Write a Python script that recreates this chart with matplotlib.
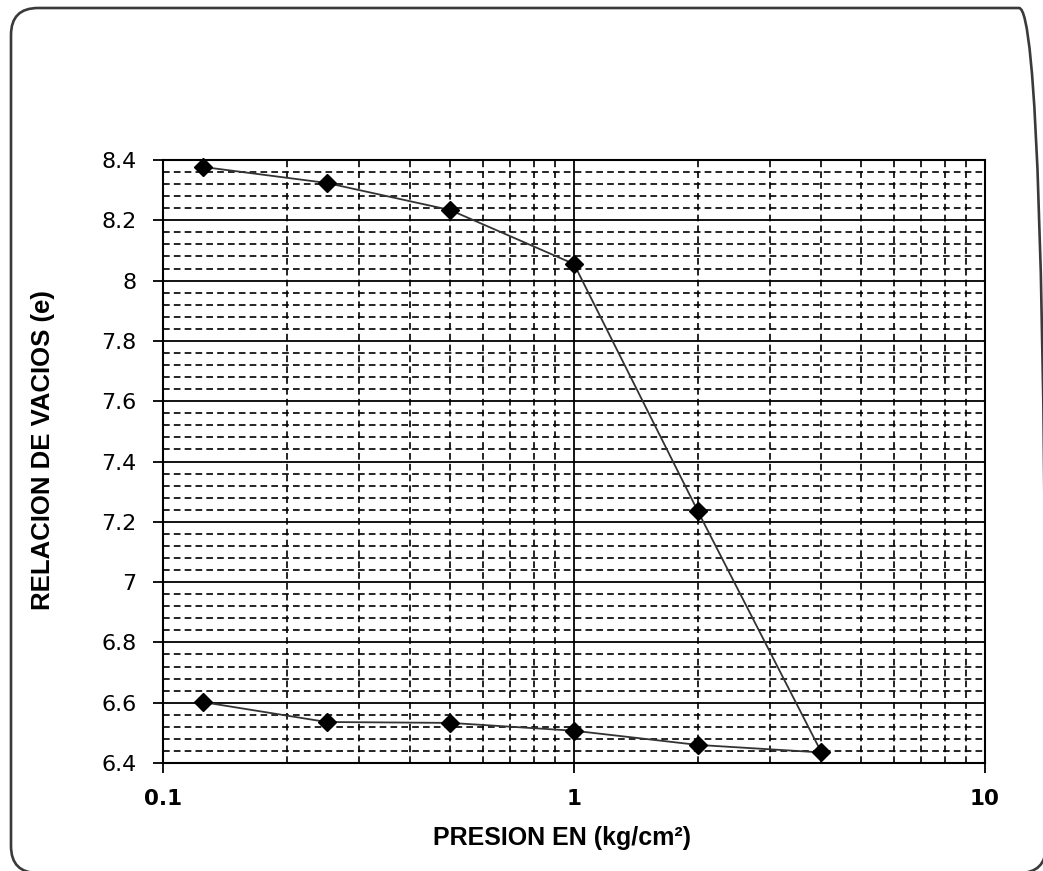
import matplotlib
matplotlib.use("Agg")
import matplotlib.pyplot as plt
from matplotlib.patches import FancyBboxPatch
from matplotlib.transforms import IdentityTransform
from matplotlib.ticker import FixedLocator, NullFormatter, FuncFormatter

# Consolidation test: void ratio vs. applied pressure (loading then unloading)
presion = [0.125, 0.25, 0.5, 1, 2, 4, 2, 1, 0.5, 0.25, 0.125]
relacion_vacios = [8.377, 8.324, 8.234, 8.055, 7.236, 6.435,
                   6.460, 6.507, 6.533, 6.536, 6.602]

x_ticks = [0.1, 1, 10]
x_tick_labels = ["0.1", "1", "10"]
y_ticks = [6.4, 6.6, 6.8, 7.0, 7.2, 7.4, 7.6, 7.8, 8.0, 8.2, 8.4]
y_tick_labels = ["6.4", "6.6", "6.8", "7", "7.2", "7.4", "7.6", "7.8", "8", "8.2", "8.4"]

W, H = 1043, 871
fig = plt.figure(figsize=(W / 100, H / 100), dpi=100)

# rounded outer frame (pixel coordinates)
frame = FancyBboxPatch((11, H - 873), 1046 - 11, 873 - 8,
                       boxstyle="round,pad=0,rounding_size=27",
                       transform=IdentityTransform(), facecolor="none",
                       edgecolor="#3a3a3a", linewidth=1.9, zorder=10)
fig.patches.append(frame)

ax = fig.add_axes([163 / W, 1 - 763 / H, (985 - 163) / W, (763 - 160) / H])

ax.set_xscale("log")
ax.set_xlim(0.1, 10)
ax.set_ylim(6.4, 8.4)

ax.xaxis.set_major_locator(FixedLocator(x_ticks))
ax.xaxis.set_major_formatter(FuncFormatter(
    lambda v, p: x_tick_labels[x_ticks.index(v)] if v in x_ticks else ""))
minor_x = [m * d for d in (0.1, 1) for m in range(2, 10)]
ax.xaxis.set_minor_locator(FixedLocator(minor_x))
ax.xaxis.set_minor_formatter(NullFormatter())

ax.yaxis.set_major_locator(FixedLocator(y_ticks))
ax.set_yticklabels(y_tick_labels)
minor_y = [6.4 + 0.04 * i for i in range(51) if i % 5 != 0]
ax.yaxis.set_minor_locator(FixedLocator(minor_y))

ax.grid(which="major", color="black", linestyle="-", linewidth=1.3)
ax.grid(which="minor", color="black", linestyle=(0, (4, 2.5)), linewidth=1.2)
ax.set_axisbelow(True)

ax.tick_params(which="major", direction="out", length=7, width=1.3, color="black")
ax.tick_params(which="minor", length=0)
ax.tick_params(axis="x", pad=12)
ax.tick_params(axis="y", pad=12)

for lbl in ax.get_xticklabels():
    lbl.set_fontfamily("DejaVu Sans")
    lbl.set_fontweight("bold")
    lbl.set_fontsize(15.5)
for lbl in ax.get_yticklabels():
    lbl.set_fontfamily("DejaVu Sans")
    lbl.set_fontsize(16)

for side in ("left", "bottom", "right", "top"):
    ax.spines[side].set_linewidth(1.5)
    ax.spines[side].set_color("black")

ax.plot(presion, relacion_vacios, color="#333333", linewidth=1.3,
        marker="D", markersize=9, markerfacecolor="black",
        markeredgecolor="black", zorder=5, clip_on=False)

fig.text(562 / W, 1 - 838 / H, "PRESION EN (kg/cm²)", family="Liberation Sans",
         weight="bold", fontsize=18, ha="center", va="center")
fig.text(43 / W, 1 - 450 / H, "RELACION DE VACIOS (e)", family="Liberation Sans",
         weight="bold", fontsize=18.5, ha="center", va="center", rotation=90)

fig.savefig("out.png", dpi=100, facecolor="white")
